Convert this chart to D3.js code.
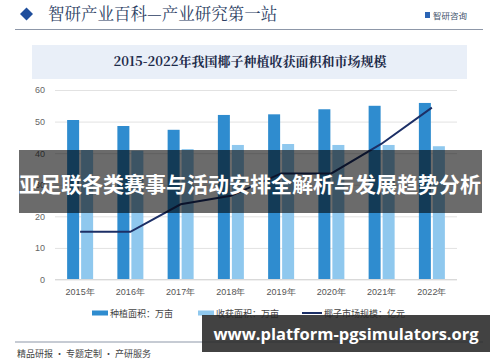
<!DOCTYPE html>
<html>
<head>
<meta charset="utf-8">
<script src="https://cdn.jsdelivr.net/npm/d3@7"></script>
<style>
  body { margin: 0; background: #fff; }
  svg { display: block; font-family: "Noto Sans CJK SC", "Noto Sans", sans-serif; }
</style>
</head>
<body>
<svg width="500" height="362"></svg>
<script>
// chart data
var years = ["2015年", "2016年", "2017年", "2018年", "2019年", "2020年", "2021年", "2022年"];
var plantArea = [50.5, 48.6, 47.4, 52.1, 52.3, 53.9, 55.0, 55.9];
var harvestArea = [41.0, 40.8, 41.3, 42.6, 42.9, 42.6, 42.6, 42.2];
var marketSize = [15.1, 15.1, 23.8, 26.5, 33.6, 33.6, 43.0, 54.4];
var yTicks = [0, 10, 20, 30, 40, 50, 60];
var seriesNames = ["种植面积：万亩", "收获面积：万亩", "椰子市场规模：亿元"];

var svg = d3.select("svg"),
    width = +svg.attr("width"),
    height = +svg.attr("height");

var darkBlue = "#2f8ccf", lightBlue = "#8fc8ee", navy = "#1c2f66";

// header
svg.append("path")
    .attr("d", "M20,14 L26.5,7.5 L33,14 L26.5,20.5 Z")
    .attr("fill", "#1f4e9c");
svg.append("text")
    .attr("x", 48).attr("y", 20)
    .attr("font-family", "'Noto Serif CJK SC', 'Noto Sans CJK SC', serif")
    .attr("font-size", 16.5)
    .attr("fill", "#2c3e63")
    .text("智研产业百科—产业研究第一站");
svg.append("rect").attr("x", 425).attr("y", 12).attr("width", 5).attr("height", 6).attr("fill", "#2a64b5");
svg.append("text")
    .attr("x", 433).attr("y", 19)
    .attr("font-size", 8.5)
    .attr("fill", "#44546c")
    .text("智研咨询");
svg.append("line")
    .attr("x1", 15).attr("x2", 483).attr("y1", 29.5).attr("y2", 29.5)
    .attr("stroke", "#8d97a8").attr("stroke-width", 1.2);

// title band
svg.append("rect")
    .attr("x", 32).attr("y", 45).attr("width", 435).attr("height", 34)
    .attr("fill", "#e9eff8");
svg.append("text")
    .attr("x", 250).attr("y", 66)
    .attr("text-anchor", "middle")
    .attr("font-family", "'Noto Serif CJK SC', 'Noto Sans CJK SC', serif")
    .attr("font-size", 13)
    .attr("font-weight", "bold")
    .attr("fill", "#1d2b4a")
    .text("2015-2022年我国椰子种植收获面积和市场规模");

// scales
var x = d3.scaleBand()
    .domain(years)
    .range([55, 457]);

var y = d3.scaleLinear()
    .domain([0, 60])
    .range([279.5, 90]);

// grid lines + y labels
var yAxis = svg.append("g")
    .attr("transform", "translate(55,0)")
    .call(d3.axisLeft(y).tickValues(yTicks).tickSize(-402).tickPadding(10));
yAxis.select(".domain").remove();
yAxis.selectAll(".tick line").attr("stroke", "#e2e2e2");
yAxis.selectAll(".tick text")
    .attr("font-family", "Arial, 'Liberation Sans', sans-serif")
    .attr("font-size", 9).attr("fill", "#666");

// bars
var barW = 12, gap = 2;
svg.append("g").selectAll("rect")
    .data(plantArea)
  .enter().append("rect")
    .attr("x", function(d, i) { return x(years[i]) + x.bandwidth() / 2 - barW - gap / 2; })
    .attr("y", function(d) { return y(d); })
    .attr("width", barW)
    .attr("height", function(d) { return y(0) - y(d); })
    .attr("fill", darkBlue);

svg.append("g").selectAll("rect")
    .data(harvestArea)
  .enter().append("rect")
    .attr("x", function(d, i) { return x(years[i]) + x.bandwidth() / 2 + gap / 2; })
    .attr("y", function(d) { return y(d); })
    .attr("width", barW)
    .attr("height", function(d) { return y(0) - y(d); })
    .attr("fill", lightBlue);

// x axis line + labels
svg.append("line")
    .attr("x1", 55).attr("x2", 457).attr("y1", y(0)).attr("y2", y(0))
    .attr("stroke", "#d9d9d9");
var xAxis = svg.append("g")
    .attr("transform", "translate(0," + y(0) + ")")
    .call(d3.axisBottom(x).tickSize(0).tickPadding(9));
xAxis.select(".domain").remove();
xAxis.selectAll(".tick text")
    .attr("font-size", 9).attr("fill", "#555");

// market size line
var line = d3.line()
    .x(function(d, i) { return x(years[i]) + x.bandwidth() / 2; })
    .y(function(d) { return y(d); });
svg.append("path")
    .datum(marketSize)
    .attr("d", line)
    .attr("fill", "none")
    .attr("stroke", navy)
    .attr("stroke-width", 2);

// legend
var legend = svg.append("g").attr("transform", "translate(0,313)");
var legendItems = [
  { x: 92, w: 16, type: "rect", color: darkBlue },
  { x: 198, w: 16, type: "rect", color: lightBlue },
  { x: 302, w: 20, type: "line", color: navy }
];
legendItems.forEach(function(item, i) {
  if (item.type === "rect") {
    legend.append("rect")
        .attr("x", item.x).attr("y", -2.5).attr("width", item.w).attr("height", 5)
        .attr("fill", item.color);
  } else {
    legend.append("line")
        .attr("x1", item.x).attr("x2", item.x + item.w).attr("y1", 0).attr("y2", 0)
        .attr("stroke", item.color).attr("stroke-width", 2);
  }
  legend.append("text")
      .attr("x", item.x + item.w + 2).attr("y", 3.5)
      .attr("font-size", 9).attr("fill", "#444")
      .text(seriesNames[i]);
});

// footer
svg.append("line")
    .attr("x1", 15).attr("x2", 483).attr("y1", 342).attr("y2", 342)
    .attr("stroke", "#8d97a8").attr("stroke-width", 1);
svg.append("text")
    .attr("x", 17).attr("y", 357)
    .attr("font-size", 9).attr("fill", "#444")
    .text("精品研报 · 专题定制 · 产研服务");

// overlay banner
svg.append("rect")
    .attr("x", 19).attr("y", 150).attr("width", 463).attr("height", 63)
    .attr("fill", "rgba(0,0,0,0.58)");
svg.append("text")
    .attr("x", 250).attr("y", 192)
    .attr("text-anchor", "middle")
    .attr("font-size", 21)
    .attr("font-weight", "bold")
    .attr("fill", "#fff")
    .text("亚足联各类赛事与活动安排全解析与发展趋势分析");

// bottom url box
svg.append("rect")
    .attr("x", 202).attr("y", 315).attr("width", 288).attr("height", 37)
    .attr("fill", "rgba(40,40,40,0.88)");
svg.append("text")
    .attr("x", 346).attr("y", 339.5)
    .attr("text-anchor", "middle")
    .attr("font-family", "'Open Sans', 'DejaVu Sans', sans-serif")
    .attr("font-size", 16.5)
    .attr("font-weight", "bold")
    .attr("fill", "#fff")
    .text("www.platform-pgsimulators.org");
</script>
</body>
</html>
